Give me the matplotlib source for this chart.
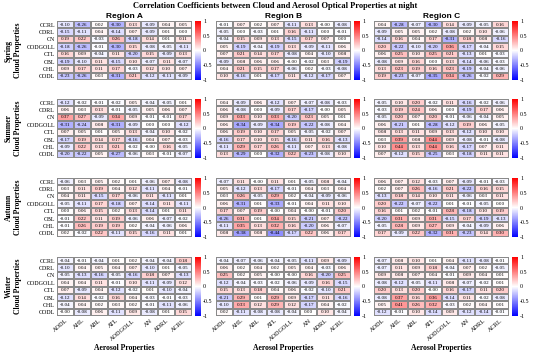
import numpy as np
import matplotlib
matplotlib.use("Agg")
import matplotlib.pyplot as plt

cloud_props = ["CCRL", "CDRL", "CN", "CODGOLL", "CTL", "CBL", "CHL", "CODL"]
aerosol_props = ["AODL", "AHL", "ABL", "ATL", "AODGOLL", "AN", "ADRL", "ACRL"]
seasons = ["Spring", "Summer", "Autumn", "Winter"]
regions = ["Region A", "Region B", "Region C"]

spring_a = [[-0.10, -0.26, 0.02, -0.30, 0.13, -0.09, 0.04, 0.05],
            [-0.15, -0.11, 0.04, -0.14, 0.07, -0.09, 0.01, 0.00],
            [0.19, 0.22, -0.03, 0.26, -0.18, 0.14, 0.01, 0.11],
            [-0.18, -0.26, -0.01, -0.30, 0.15, -0.08, -0.05, -0.11],
            [0.16, 0.09, -0.04, 0.11, -0.20, 0.15, -0.09, 0.13],
            [-0.19, -0.10, 0.11, -0.15, 0.10, -0.07, 0.11, -0.07],
            [0.09, 0.17, 0.11, 0.17, -0.03, 0.12, 0.10, 0.07],
            [-0.23, -0.26, 0.03, -0.31, 0.21, -0.12, -0.11, -0.09]]
spring_b = [[-0.01, 0.07, 0.02, 0.07, -0.11, 0.13, -0.00, -0.08],
            [-0.05, 0.00, -0.03, 0.01, 0.16, -0.11, 0.00, -0.01],
            [-0.04, 0.15, 0.09, 0.13, -0.15, 0.17, 0.07, 0.00],
            [0.05, -0.19, -0.04, -0.19, 0.13, -0.09, -0.11, 0.06],
            [0.07, 0.21, 0.14, 0.17, -0.08, 0.04, -0.10, 0.08],
            [-0.09, 0.08, 0.06, 0.06, -0.00, -0.02, 0.03, -0.19],
            [0.04, 0.21, 0.15, 0.17, -0.06, 0.02, -0.03, -0.08],
            [0.10, -0.16, 0.01, -0.17, 0.11, -0.12, -0.17, 0.07]]
spring_c = [[0.04, -0.28, -0.07, -0.30, 0.14, -0.09, -0.05, 0.16],
            [-0.09, 0.05, 0.05, 0.02, -0.08, 0.02, 0.10, -0.06],
            [-0.14, 0.16, 0.04, 0.17, -0.31, 0.18, 0.08, -0.16],
            [0.20, -0.22, -0.10, -0.20, 0.36, -0.17, -0.04, 0.15],
            [0.06, 0.25, 0.10, 0.25, 0.21, -0.13, 0.01, -0.03],
            [-0.08, 0.09, 0.16, 0.00, 0.13, -0.14, -0.06, -0.03],
            [0.13, 0.23, 0.19, 0.16, 0.23, -0.19, -0.04, -0.06],
            [0.19, -0.23, -0.07, -0.35, 0.34, -0.26, -0.02, 0.29]]
summer_a = [[-0.12, -0.02, -0.01, -0.02, 0.05, -0.04, -0.05, 0.01],
            [0.06, 0.03, 0.13, -0.01, -0.05, 0.05, 0.06, 0.07],
            [0.37, 0.27, -0.09, 0.34, 0.09, -0.01, -0.01, 0.17],
            [-0.31, -0.24, 0.08, -0.31, -0.09, 0.00, 0.00, -0.12],
            [0.07, 0.05, 0.01, 0.05, 0.13, -0.04, 0.10, -0.02],
            [-0.17, 0.19, 0.14, 0.17, -0.16, 0.04, 0.07, -0.03],
            [-0.09, 0.22, 0.13, 0.21, -0.02, -0.00, 0.16, -0.05],
            [-0.20, -0.22, 0.05, -0.27, -0.06, 0.03, -0.01, -0.07]]
summer_b = [[0.04, -0.09, 0.06, -0.12, 0.07, -0.07, -0.08, -0.03],
            [0.06, -0.08, 0.00, -0.09, 0.17, -0.17, -0.00, 0.05],
            [0.09, 0.33, 0.10, 0.33, -0.20, 0.23, 0.05, 0.01],
            [0.06, -0.34, -0.09, -0.34, 0.19, -0.22, -0.08, 0.04],
            [0.06, 0.19, 0.10, 0.17, 0.05, -0.05, -0.02, 0.07],
            [-0.16, 0.17, 0.10, 0.15, -0.16, 0.11, 0.16, -0.13],
            [-0.11, 0.29, 0.17, 0.26, -0.11, 0.07, 0.13, -0.08],
            [0.13, -0.29, 0.00, -0.32, 0.22, -0.23, -0.08, 0.10]]
summer_c = [[-0.05, 0.10, 0.20, -0.02, 0.11, -0.16, -0.02, -0.06],
            [-0.03, 0.19, 0.24, 0.06, 0.00, -0.19, 0.17, 0.06],
            [-0.05, 0.20, 0.07, 0.20, -0.01, -0.06, -0.04, 0.05],
            [0.06, -0.21, 0.01, -0.28, -0.12, 0.19, 0.06, -0.05],
            [0.08, 0.13, 0.11, 0.09, 0.13, -0.12, 0.10, 0.10],
            [0.03, 0.39, 0.08, 0.44, 0.09, -0.08, -0.01, -0.08],
            [0.10, 0.44, 0.13, 0.44, 0.16, -0.17, 0.07, 0.11],
            [0.07, -0.12, 0.15, -0.25, 0.03, -0.18, 0.11, 0.11]]
autumn_a = [[-0.06, 0.03, 0.05, 0.02, 0.01, -0.06, 0.07, -0.08],
            [0.03, 0.11, 0.19, 0.04, 0.12, -0.11, 0.04, -0.01],
            [0.04, 0.11, -0.15, 0.17, -0.06, 0.11, -0.11, 0.01],
            [-0.05, -0.11, 0.17, -0.18, 0.07, -0.14, 0.11, -0.11],
            [0.00, 0.06, 0.15, 0.02, 0.13, -0.14, 0.01, 0.11],
            [-0.01, 0.22, 0.11, 0.19, -0.06, 0.06, -0.07, -0.02],
            [-0.01, 0.26, 0.19, 0.19, 0.02, -0.04, -0.06, 0.06],
            [0.02, -0.02, 0.22, -0.11, 0.15, -0.16, 0.11, 0.01]]
autumn_b = [[-0.07, 0.11, -0.00, 0.11, 0.01, -0.05, 0.08, -0.04],
            [0.05, -0.12, 0.13, -0.17, -0.01, 0.04, 0.03, 0.04],
            [0.03, 0.26, -0.05, 0.29, 0.02, -0.04, -0.09, -0.06],
            [0.06, -0.31, 0.01, -0.33, -0.01, 0.04, 0.11, 0.10],
            [0.17, 0.07, 0.19, -0.00, 0.04, -0.00, -0.01, 0.20],
            [-0.26, 0.31, 0.01, 0.34, 0.15, -0.21, 0.07, -0.22],
            [-0.11, 0.35, 0.13, 0.32, 0.16, -0.20, 0.06, -0.07],
            [0.08, -0.38, 0.08, -0.44, -0.17, 0.22, 0.06, 0.17]]
autumn_c = [[0.06, 0.07, 0.12, -0.03, 0.07, -0.09, -0.01, -0.03],
            [0.02, 0.07, 0.26, -0.16, 0.21, -0.22, 0.16, 0.15],
            [-0.13, 0.18, 0.14, 0.10, 0.11, -0.06, 0.03, 0.11],
            [0.20, -0.22, -0.07, -0.22, 0.01, -0.01, -0.05, 0.00],
            [0.16, 0.01, 0.02, -0.01, 0.28, -0.18, 0.10, 0.19],
            [-0.20, 0.31, 0.09, 0.31, -0.15, 0.17, -0.19, -0.13],
            [-0.05, 0.28, 0.09, 0.27, 0.09, -0.04, -0.09, 0.06],
            [0.17, -0.09, 0.22, -0.32, 0.31, -0.23, 0.14, 0.30]]
winter_a = [[-0.04, -0.01, -0.04, 0.01, 0.02, -0.04, -0.04, 0.18],
            [-0.10, 0.04, 0.05, 0.04, 0.07, -0.10, 0.01, -0.05],
            [-0.05, -0.13, -0.16, -0.05, -0.16, 0.18, 0.07, -0.13],
            [0.04, 0.04, 0.11, -0.01, 0.10, -0.11, -0.09, 0.12],
            [0.07, -0.09, 0.04, -0.12, -0.02, 0.01, -0.10, -0.04],
            [-0.12, 0.14, -0.02, 0.16, 0.04, -0.03, -0.01, -0.03],
            [-0.04, 0.04, 0.02, 0.03, 0.02, -0.01, -0.11, -0.06],
            [-0.00, -0.08, 0.06, -0.11, 0.09, -0.08, 0.01, 0.15]]
winter_b = [[-0.04, -0.07, -0.06, -0.04, -0.05, -0.11, 0.09, -0.09],
            [0.06, 0.02, 0.04, 0.02, 0.05, 0.04, -0.03, 0.06],
            [0.25, 0.02, 0.05, -0.00, -0.00, 0.16, -0.20, 0.25],
            [-0.12, -0.04, -0.03, -0.02, -0.06, -0.09, 0.16, -0.15],
            [0.15, 0.13, 0.18, 0.04, 0.06, -0.02, -0.10, 0.21],
            [-0.21, 0.29, 0.01, 0.29, 0.09, -0.17, 0.11, -0.16],
            [-0.10, 0.33, 0.12, 0.29, 0.12, -0.17, 0.04, -0.02],
            [0.02, -0.11, -0.08, -0.08, -0.04, 0.00, 0.10, -0.04]]
winter_c = [[-0.07, 0.08, 0.10, 0.01, 0.04, -0.11, -0.08, -0.01],
            [-0.07, 0.11, 0.09, 0.18, -0.04, 0.07, 0.02, -0.05],
            [0.09, 0.08, 0.07, 0.04, -0.01, 0.09, 0.04, 0.01],
            [-0.08, -0.12, -0.05, -0.11, 0.08, -0.07, -0.02, 0.01],
            [0.20, 0.13, 0.20, -0.00, 0.16, -0.17, 0.11, 0.20],
            [-0.08, 0.37, 0.16, 0.36, -0.14, 0.11, -0.02, -0.08],
            [0.05, 0.41, 0.26, 0.32, -0.03, 0.02, 0.04, 0.01],
            [-0.12, -0.01, 0.10, -0.14, 0.09, -0.12, -0.14, -0.01]]

grid = [[spring_a, spring_b, spring_c],
        [summer_a, summer_b, summer_c],
        [autumn_a, autumn_b, autumn_c],
        [winter_a, winter_b, winter_c]]

serif = "Liberation Serif"
W, H = 550, 352
fig = plt.figure(figsize=(W / 100, H / 100), dpi=100)

# positions in pixels (from the reference)
hm_left = [57, 216, 374]
hm_w = 135
cb_off, cb_w = 3, 6
row_top = [21, 99, 178, 257]
hm_h = 59

fig.text(0.5, 1 - 6 / H,
         "Correlation Coefficients between Cloud and Aerosol Optical Properties at night",
         ha="center", va="center", fontsize=6, fontweight="bold", family=serif)

for i, season in enumerate(seasons):
    for j in range(3):
        data = np.array(grid[i][j])
        x0 = hm_left[j] / W
        y0 = 1 - (row_top[i] + hm_h) / H
        ax = fig.add_axes([x0, y0, hm_w / W, hm_h / H])
        mesh = ax.pcolormesh(data, cmap="bwr", vmin=-1, vmax=1,
                             edgecolors="#8a8a8a", linewidth=0.3)
        ax.invert_yaxis()
        for r in range(data.shape[0]):
            for c in range(data.shape[1]):
                ax.text(c + 0.5, r + 0.5, f"{data[r, c]:.2f}", ha="center", va="center",
                        fontsize=3.6, family=serif)
        ax.tick_params(length=0, pad=1.5)
        if j == 0:
            ax.set_yticks(np.arange(8) + 0.5)
            ax.set_yticklabels(cloud_props, fontsize=4.3, family=serif)
            ax.set_ylabel(f"{season}\nCloud Properties", fontsize=5.5, fontweight="bold",
                          family=serif, labelpad=3)
        else:
            ax.set_yticks([])
        if i == 3:
            ax.set_xticks(np.arange(8) + 0.5)
            ax.set_xticklabels(aerosol_props, fontsize=4.5, family=serif,
                               rotation=40, ha="right", rotation_mode="anchor")
            ax.set_xlabel("Aerosol Properties", fontsize=5.5, fontweight="bold",
                          family=serif, labelpad=2)
        else:
            ax.set_xticks([])
        if i == 0:
            ax.set_title(regions[j], fontsize=6, fontweight="bold",
                         family="Liberation Sans", pad=2)
        for s in ax.spines.values():
            s.set_visible(False)

        cax = fig.add_axes([(hm_left[j] + hm_w + cb_off) / W, y0, cb_w / W, hm_h / H])
        cb = fig.colorbar(mesh, cax=cax, ticks=[-1, -0.5, 0, 0.5, 1])
        cb.ax.set_yticklabels(["-1", "-0.5", "0", "0.5", "1"], fontsize=4.3, family=serif)
        cb.ax.tick_params(length=0, pad=1.5)
        cb.outline.set_visible(False)

fig.savefig("out.png", dpi=100)
